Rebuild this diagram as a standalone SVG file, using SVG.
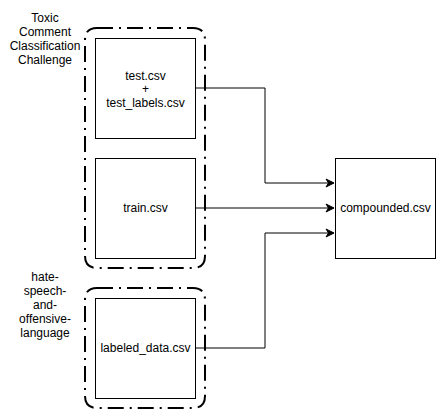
<svg xmlns="http://www.w3.org/2000/svg" width="446" height="419" viewBox="0 0 446 419">
<style>
text{font-family:"Liberation Sans",Arial,sans-serif;font-size:12px;fill:#000;text-anchor:middle}
.grp{fill:none;stroke:#000;stroke-width:2;stroke-dasharray:16 6 2 6}
.box{fill:#fff;stroke:#000;stroke-width:1}
.edge{fill:none;stroke:#000;stroke-width:1}
</style>
<defs>
<marker id="arr" markerUnits="userSpaceOnUse" markerWidth="10" markerHeight="10" viewBox="-9 -5 10 10" refX="0" refY="0" orient="auto">
<path d="M0,0 L-8,-4 L-5.5,0 L-8,4 Z" fill="#000" stroke="#000" stroke-width="1"/>
</marker>
</defs>
<rect width="446" height="419" fill="#fff"/>
<g id="group-toxic">
<path class="grp" d="M97,28 L193,28 Q205,28 205,40 L205,256 Q205,268 193,268 L97,268 Q85,268 85,256 L85,40 Q85,28 97,28"/>
<text x="45" y="22">Toxic</text>
<text x="45" y="36">Comment</text>
<text x="45" y="50">Classification</text>
<text x="45" y="64">Challenge</text>
</g>
<g id="group-hate">
<path class="grp" d="M97,288 L193,288 Q205,288 205,300 L205,396 Q205,408 193,408 L97,408 Q85,408 85,396 L85,300 Q85,288 97,288"/>
<text x="45" y="281">hate-</text>
<text x="45" y="295">speech-</text>
<text x="45" y="309">and-</text>
<text x="45" y="323">offensive-</text>
<text x="45" y="337">language</text>
</g>
<g id="connectors">
<path class="edge" d="M195,88 L265,88 L265,183 L334,183" marker-end="url(#arr)"/>
<path class="edge" d="M195,208 L334,208" marker-end="url(#arr)"/>
<path class="edge" d="M195,348 L265,348 L265,233 L334,233" marker-end="url(#arr)"/>
</g>
<g id="node-test">
<rect class="box" x="95.5" y="38.5" width="100" height="100"/>
<text x="145.5" y="80">test.csv</text>
<text x="145.5" y="93">+</text>
<text x="145.5" y="107">test_labels.csv</text>
</g>
<g id="node-train">
<rect class="box" x="95.5" y="158.5" width="100" height="100"/>
<text x="145.5" y="212">train.csv</text>
</g>
<g id="node-labeled">
<rect class="box" x="95.5" y="298.5" width="100" height="100"/>
<text x="145.5" y="352">labeled_data.csv</text>
</g>
<g id="node-compounded">
<rect class="box" x="335.5" y="158.5" width="100" height="100"/>
<text x="385.5" y="212">compounded.csv</text>
</g>
</svg>
